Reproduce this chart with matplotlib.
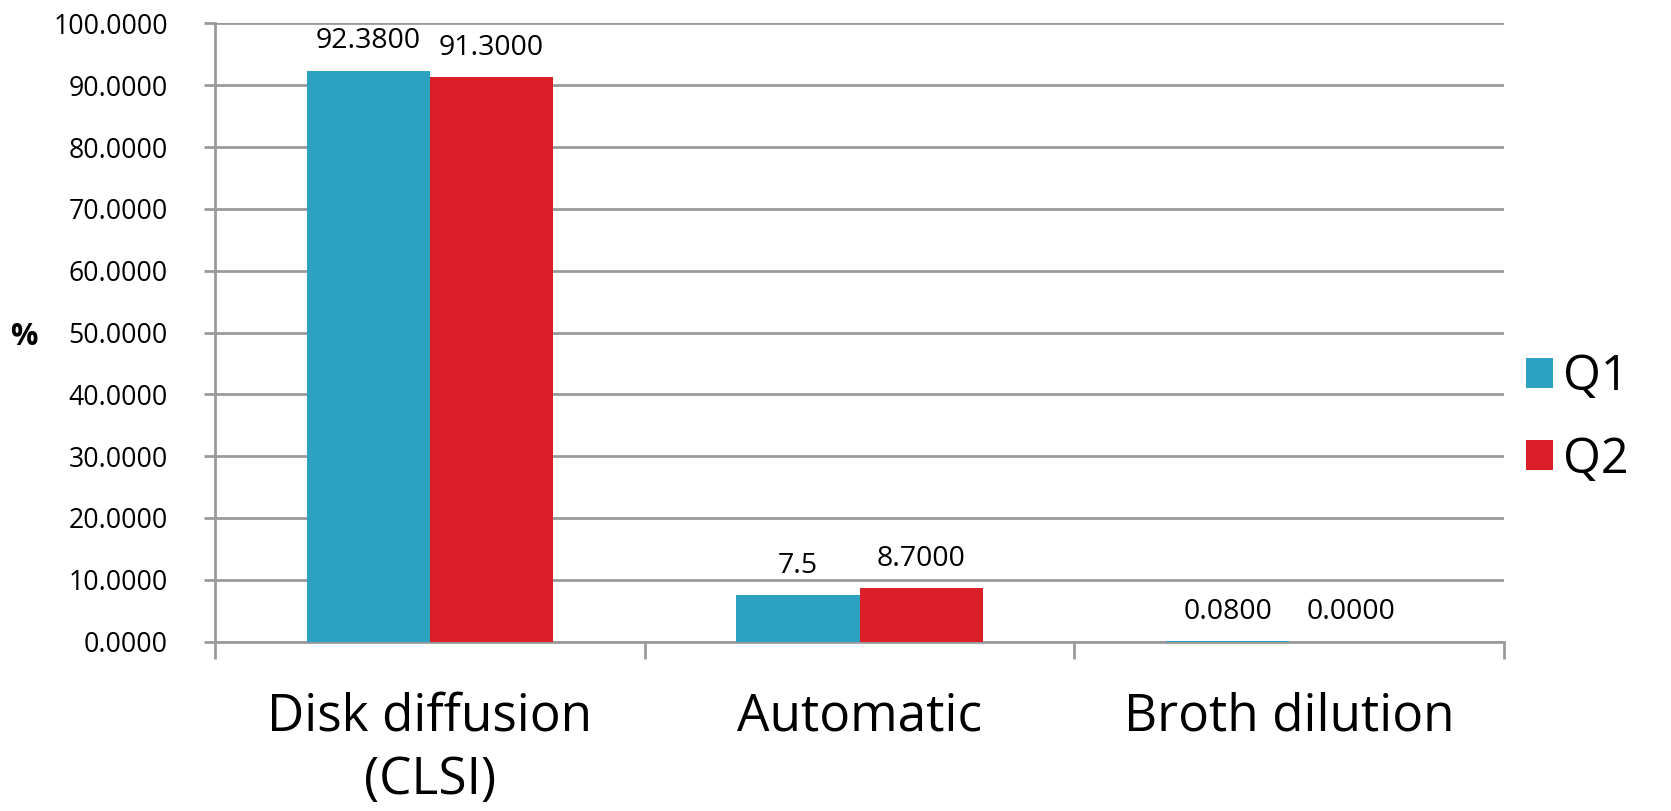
import numpy as np
import matplotlib.pyplot as plt
from matplotlib.ticker import FixedLocator, FormatStrFormatter, NullFormatter

plt.rcParams['font.family'] = ['Open Sans', 'DejaVu Sans']

# data
methods = ['Disk diffusion\n(CLSI)', 'Automatic', 'Broth dilution']
q1 = [92.38, 7.5, 0.08]
q2 = [91.30, 8.70, 0.00]
q1_labels = ['92.3800', '7.5', '0.0800']
q2_labels = ['91.3000', '8.7000', '0.0000']

c_q1 = '#2CA2C0'
c_q2 = '#DA1F28'
grid_c = '#9a9a9a'

fig = plt.figure(figsize=(16.71, 8.11), dpi=100)
ax = fig.add_axes([0.1287, 0.2089, 0.7714, 0.7622])

x = np.arange(len(methods))
w = 0.287
b1 = ax.bar(x - w / 2, q1, w, color=c_q1, label='Q1', zorder=3)
b2 = ax.bar(x + w / 2, q2, w, color=c_q2, label='Q2', zorder=3)

for bars, labs in ((b1, q1_labels), (b2, q2_labels)):
    for r, s in zip(bars, labs):
        ax.annotate(s, (r.get_x() + r.get_width() / 2, r.get_height()),
                    xytext=(0, 11), textcoords='offset points',
                    ha='center', va='bottom', fontsize=20.5)

ax.set_xlim(-0.5, 2.5)
ax.set_ylim(0, 100)
ax.set_yticks(np.arange(0, 101, 10))
ax.yaxis.set_major_formatter(FormatStrFormatter('%.4f'))
ax.yaxis.grid(True, color=grid_c, linewidth=2, zorder=0)

# category boundaries carry the tick marks, names sit between them
ax.xaxis.set_major_locator(FixedLocator([-0.5, 0.5, 1.5, 2.5]))
ax.xaxis.set_major_formatter(NullFormatter())
ax.xaxis.set_minor_locator(FixedLocator(x))
ax.set_xticklabels(methods, minor=True, fontsize=37, va='top', linespacing=1.33)
ax.tick_params(axis='x', which='major', length=12, width=2, color=grid_c)
ax.tick_params(axis='x', which='minor', length=0, pad=36)
ax.tick_params(axis='y', length=8, width=2, color=grid_c, labelsize=19.2, pad=26)

for s in ('top', 'right'):
    ax.spines[s].set_visible(False)
for s in ('left', 'bottom'):
    ax.spines[s].set_color(grid_c)
    ax.spines[s].set_linewidth(2)

ax.set_ylabel('%', rotation=0, fontsize=22, fontweight='bold', va='center', ha='center')
ax.yaxis.set_label_coords(-0.1486, 0.493)

fig.legend(handles=[b1, b2], labels=['Q1', 'Q2'], loc='center left',
           bbox_to_anchor=(0.913, 0.484), frameon=False,
           fontsize=35, handlelength=0.57, handleheight=0.57, handletextpad=0.2,
           labelspacing=0.68, borderaxespad=0, borderpad=0)

fig.savefig('out.png', dpi=100)
